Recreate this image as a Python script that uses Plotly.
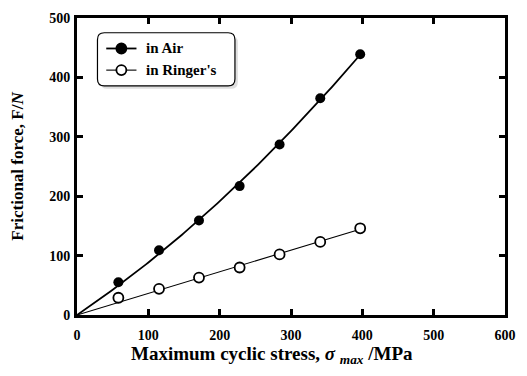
import numpy as np
import plotly.graph_objects as go

stress = [58, 115, 171, 228, 284, 341, 397]
force_air = [55, 109, 159, 217, 287, 365, 439]
force_ringer = [29, 44, 63, 80, 102, 123, 146]
series_names = ["in Air", "in Ringer's"]
x_ticks = [0, 100, 200, 300, 400, 500, 600]
y_ticks = [0, 100, 200, 300, 400, 500]

xs = np.array(stress, dtype=float)
# quadratic fit through origin for air
A = np.vstack([xs, xs**2]).T
coef_air, *_ = np.linalg.lstsq(A, np.array(force_air, dtype=float), rcond=None)
# linear fit through origin for Ringer's
coef_r, *_ = np.linalg.lstsq(xs[:, None], np.array(force_ringer, dtype=float), rcond=None)
xf = np.linspace(0, max(stress), 120)
yf_air = coef_air[0] * xf + coef_air[1] * xf**2
yf_r = coef_r[0] * xf

FONT = "Liberation Serif"
fig = go.Figure()
fig.add_trace(go.Scatter(x=xf, y=yf_air, mode="lines", line=dict(color="black", width=1.8),
                         showlegend=False, hoverinfo="skip"))
fig.add_trace(go.Scatter(x=xf, y=yf_r, mode="lines", line=dict(color="black", width=1.1),
                         showlegend=False, hoverinfo="skip"))
fig.add_trace(go.Scatter(x=stress, y=force_air, mode="markers", name=series_names[0],
                         marker=dict(symbol="circle", size=10, color="black"),
                         showlegend=False))
fig.add_trace(go.Scatter(x=stress, y=force_ringer, mode="markers", name=series_names[1],
                         marker=dict(symbol="circle", size=10, color="white",
                                     line=dict(color="black", width=1.8)),
                         showlegend=False))

L, R, T, B = 77, 11, 13, 61
W, H = 527, 376
pw, ph = W - L - R, H - T - B

def px(x):
    return (x - L) / pw

def py(y):
    return (H - B - y) / ph

def rounded(x0, y0, x1, y1, r):
    rx, ry = r / pw, r / ph
    X0, X1, Y0, Y1 = px(x0), px(x1), py(y1), py(y0)
    return (f"M {X0+rx},{Y0} L {X1-rx},{Y0} Q {X1},{Y0} {X1},{Y0+ry} "
            f"L {X1},{Y1-ry} Q {X1},{Y1} {X1-rx},{Y1} L {X0+rx},{Y1} "
            f"Q {X0},{Y1} {X0},{Y1-ry} L {X0},{Y0+ry} Q {X0},{Y0} {X0+rx},{Y0} Z")

shapes = [
    dict(type="path", xref="paper", yref="paper", path=rounded(101, 31, 242, 85, 7),
         fillcolor="rgba(200,200,200,0.6)", line=dict(width=0), layer="below"),
    dict(type="path", xref="paper", yref="paper", path=rounded(98, 28, 239, 82, 7),
         fillcolor="white", line=dict(color="black", width=1.2), layer="below"),
]
annotations = []
# legend entries (line + marker + label)
leg_rows = [(44, 1.8, "black"), (66, 1.1, "white")]
for name, (ly, lw, fill) in zip(series_names, leg_rows):
    shapes.append(dict(type="line", xref="paper", yref="paper",
                       x0=px(107), x1=px(138), y0=py(ly), y1=py(ly),
                       line=dict(color="black", width=lw)))
    shapes.append(dict(type="circle", xref="paper", yref="paper",
                       xsizemode="pixel", ysizemode="pixel",
                       xanchor=px(122.5), yanchor=py(ly),
                       x0=-5, x1=5, y0=-5, y1=5,
                       fillcolor=fill, line=dict(color="black", width=1.8)))
    annotations.append(dict(text=f"<b>{name}</b>", xref="paper", yref="paper",
                            x=px(146), y=py(ly), xanchor="left", yanchor="middle",
                            showarrow=False,
                            font=dict(family=FONT, size=15, color="black")))

annotations.append(dict(text="<b>Maximum cyclic stress, <i>σ</i> <sub><i>max</i></sub> /MPa</b>",
                        xref="paper", yref="paper", x=px(277), y=py(356),
                        xanchor="center", yanchor="middle", showarrow=False,
                        font=dict(family=FONT, size=19, color="black")))

axis_common = dict(showgrid=False, zeroline=False, showline=True, linecolor="black",
                   linewidth=3, mirror="ticks", ticks="inside", ticklen=6, tickwidth=3,
                   tickcolor="black",
                   tickfont=dict(family=FONT, size=14, color="black"))

fig.update_layout(
    width=W, height=H, margin=dict(l=L, r=R, t=T, b=B),
    paper_bgcolor="white", plot_bgcolor="rgba(0,0,0,0)",
    showlegend=False,
    xaxis=dict(range=[0, 600], tickvals=x_ticks, ticklabelstandoff=5,
               ticktext=[f"<b>{v}</b>" for v in x_ticks], **axis_common),
    yaxis=dict(range=[0, 500], tickvals=y_ticks, ticklabelstandoff=1,
               ticktext=[f"<b>{v}</b>" for v in y_ticks],
               title=dict(text="<b>Frictional force, F/<i>N</i></b>", standoff=22,
                          font=dict(family=FONT, size=17, color="black")),
               **axis_common),
    shapes=shapes,
    annotations=annotations,
)
fig.write_html("out.html")
